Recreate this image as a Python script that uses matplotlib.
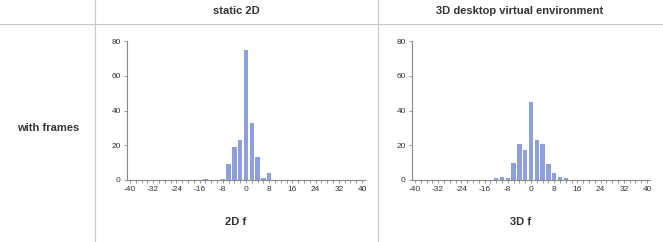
import numpy as np
import matplotlib.pyplot as plt
from matplotlib.ticker import MultipleLocator

plt.rcParams['font.family'] = ['Liberation Sans', 'DejaVu Sans']
plt.rcParams['axes.unicode_minus'] = False

# bin centres (width 2) and counts
bins = np.arange(-40, 41, 2)
counts_2d = {-14: 0.6, -8: 0.6, -6: 9, -4: 19, -2: 23, 0: 75, 2: 33, 4: 13, 6: 1, 8: 4}
counts_3d = {-12: 1, -10: 2, -8: 1, -6: 10, -4: 21, -2: 17, 0: 45, 2: 23, 4: 21,
             6: 9, 8: 4, 10: 2, 12: 1}
col_titles = ['static 2D', '3D desktop virtual environment']
x_labels = ['2D f', '3D f']
row_label = 'with frames'

BAR = '#8d9fdc'
GRID = '#c8c8c8'
TXT = '#333333'

fig = plt.figure(figsize=(6.63, 2.42), dpi=100)
W, H = 663, 242


def fx(px):
    return px / W


def fy(py):
    return 1 - py / H


# table lines
fig.add_artist(plt.Line2D([fx(95), fx(95)], [0, 1], color=GRID, lw=0.8))
fig.add_artist(plt.Line2D([fx(378), fx(378)], [0, 1], color=GRID, lw=0.8))
fig.add_artist(plt.Line2D([0, 1], [fy(24), fy(24)], color=GRID, lw=0.8))

fig.text(fx(236), fy(11), col_titles[0], ha='center', va='center',
         fontsize=8, fontweight='bold', color=TXT)
fig.text(fx(520), fy(11), col_titles[1], ha='center', va='center',
         fontsize=8, fontweight='bold', color=TXT)
fig.text(fx(48), fy(128), row_label, ha='center', va='center',
         fontsize=8, fontweight='bold', color=TXT)

for i, (counts, left) in enumerate([(counts_2d, 127), (counts_3d, 412)]):
    vals = [counts.get(int(b), 0) for b in bins]
    ax = fig.add_axes([fx(left), fy(180), fx(238), fy(41) - fy(180)])
    ax.bar(bins, vals, width=1.5, color=BAR)
    ax.set_xlim(-41, 41)
    ax.set_ylim(0, 80)
    ax.set_yticks([0, 20, 40, 60, 80])
    ax.set_xticks(np.arange(-40, 41, 8))
    ax.xaxis.set_minor_locator(MultipleLocator(2))
    for s in ['top', 'right']:
        ax.spines[s].set_visible(False)
    for s in ['left', 'bottom']:
        ax.spines[s].set_color('#888888')
        ax.spines[s].set_linewidth(0.8)
    ax.tick_params(axis='both', which='both', labelsize=6, colors='#888888',
                   labelcolor=TXT, length=2.5, width=0.6, pad=2)
    ax.set_facecolor('none')
    fig.text(fx(left + 109), fy(222), x_labels[i],
             ha='center', va='center', fontsize=8, fontweight='bold', color=TXT)

fig.savefig('out.png', dpi=100)
